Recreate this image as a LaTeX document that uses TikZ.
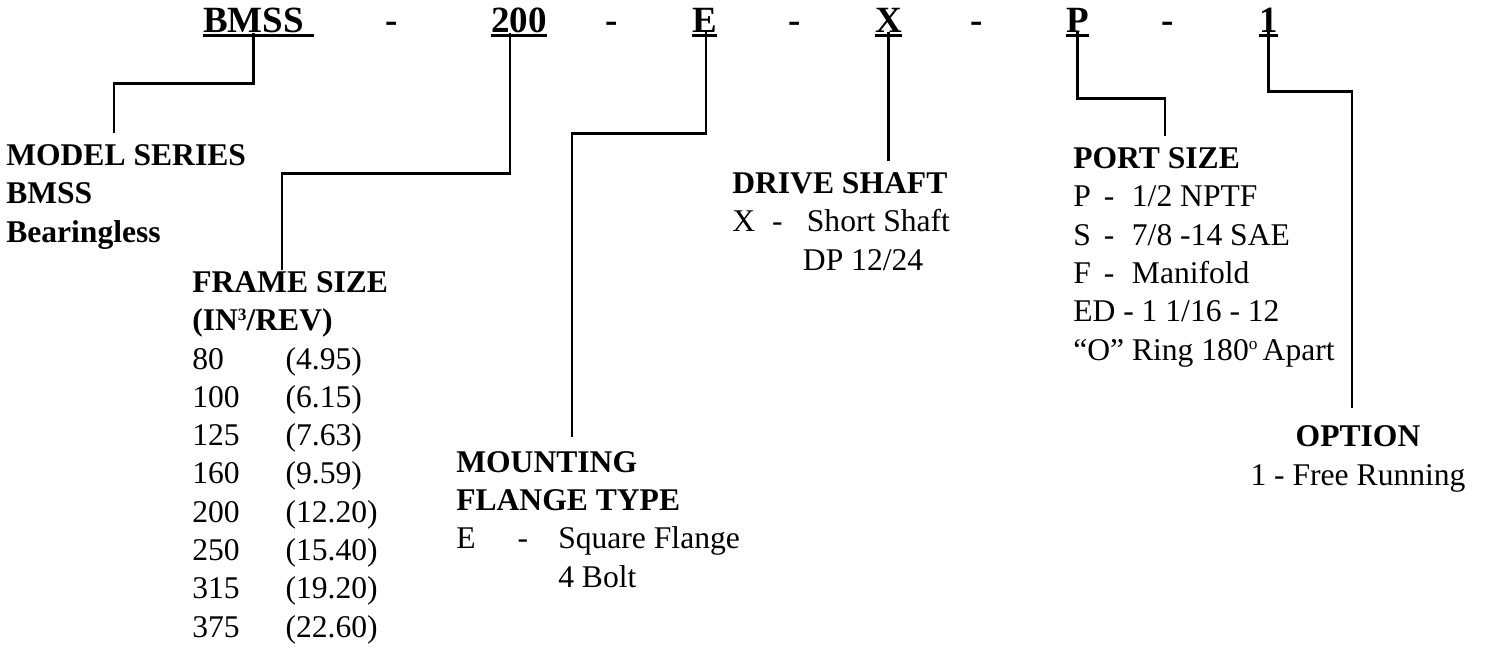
\documentclass[tikz,border=0pt]{standalone}
\usepackage{fontspec}
\setmainfont{Liberation Serif}
\newcommand{\fscol}[1]{\makebox[70pt][l]{#1}}
\newcommand{\supsm}[1]{\raisebox{0.33em}{\fontsize{13}{13}\selectfont #1}}

\begin{document}
\begin{tikzpicture}[x=0.75pt, y=-0.75pt,
    codetext/.style={inner sep=0pt, anchor=base west, font=\fontsize{27.75}{33}\selectfont\bfseries},
    block/.style={inner sep=0pt, outer ysep=9pt, anchor=base west, align=left, font=\fontsize{23.7}{28.7}\selectfont},
    lead/.style={line width=2.1pt},
    uline/.style={line width=2.25pt}]
    \useasboundingbox (0,0) rectangle (1489,651);
    %model code
    \foreach \code/\name/\xpos in {BMSS/bmss/203, 200/c200/491, E/cE/692, X/cX/875, P/cP/1066, 1/cOne/1259}
      \node[codetext] (\name) at (\xpos,32) {\code};
    \foreach \xpos [count=\i] in {385.5,605,788,970,1161}
      \node[codetext] (dash\i) at (\xpos,32) {-};
    \foreach \name in {c200,cE,cX,cP,cOne}
      \draw[uline] ([yshift=-2.25pt]\name.south west) -- ([yshift=-2.25pt]\name.south east);
    \draw[uline] ([yshift=-2.25pt]bmss.south west) -- ([yshift=-2.25pt,xshift=7pt]bmss.south east);

    %descriptions (placed by the baseline of their last line)
    \node[block] (model) at (6,242) {\textbf{MODEL SERIES}\\\textbf{BMSS}\\\textbf{Bearingless}};
    \node[block] (frame) at (192,637) {\textbf{FRAME SIZE}\\\textbf{(IN\supsm{3}/REV)}\\
      \fscol{80}(4.95)\\\fscol{100}(6.15)\\\fscol{125}(7.63)\\\fscol{160}(9.59)\\
      \fscol{200}(12.20)\\\fscol{250}(15.40)\\\fscol{315}(19.20)\\\fscol{375}(22.60)};
    \node[block] (mount) at (456,587) {\textbf{MOUNTING}\\\textbf{FLANGE TYPE}\\
      \makebox[46pt][l]{E}\makebox[30.5pt][l]{-}Square Flange\\\hspace*{76.5pt}4 Bolt};
    \node[block] (drive) at (732,270) {\textbf{DRIVE SHAFT}\\
      \makebox[30pt][l]{X}\makebox[26pt][l]{-}Short Shaft\\\hspace*{53pt}DP 12/24};
    \node[block] (port) at (1073,360) {\textbf{PORT SIZE}\\
      \makebox[23pt][l]{P}\makebox[21pt][l]{-}1/2 NPTF\\
      \makebox[23pt][l]{S}\makebox[21pt][l]{-}7/8 -14 SAE\\
      \makebox[23pt][l]{F}\makebox[21pt][l]{-}Manifold\\
      ED - 1 1/16 - 12\\“O” Ring 180\supsm{o}\,Apart};
    \node[block, align=center, anchor=base] (option) at (1358,485) {\textbf{OPTION}\\1 - Free Running};

    %leaders
    \draw[lead] (bmss.south) -- ++(0,51) -| ([xshift=81pt]model.north west);
    \draw[lead] ([xshift=-6.75pt]c200.south) -- ++(0,141) -| ([xshift=67.5pt,yshift=-7.5pt]frame.north west);
    \draw[lead] ([xshift=1pt]cE.south) -- ++(0,101) -| ([xshift=87pt,yshift=2pt]mount.north west);
    \draw[lead] (cX.south) -- (cX.south |- drive.north);
    \draw[lead] (cP.south) -- ++(0,66) -| ([xshift=69pt]port.north west);
    \draw[lead] (cOne.south) -- ++(0,59) -| ([xshift=-4.5pt,yshift=4.5pt]option.north);
\end{tikzpicture}
\end{document}
